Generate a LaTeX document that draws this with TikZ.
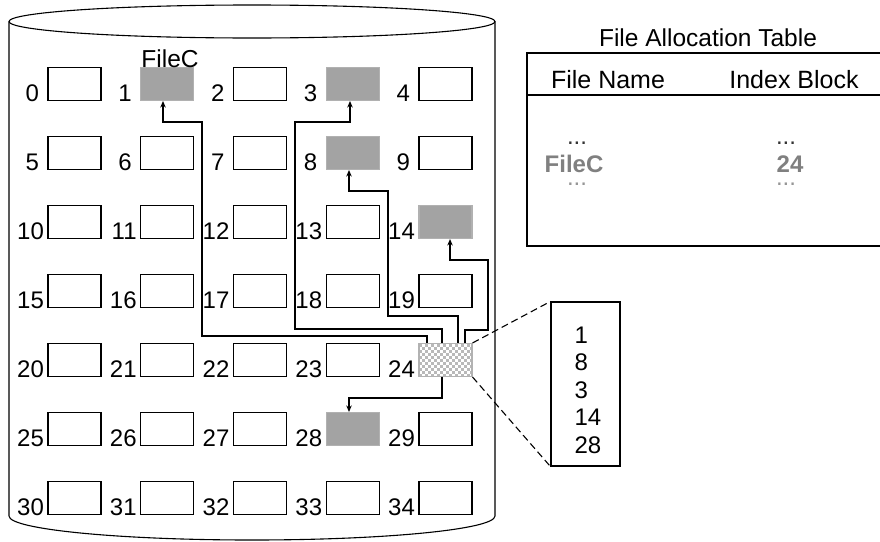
\documentclass[tikz,border=0pt]{standalone}
\usepackage{fontspec}
\setmainfont{Liberation Sans}
\usetikzlibrary{arrows.meta}

\definecolor{blockgray}{RGB}{163,163,163}
\definecolor{checkgray}{RGB}{185,185,185}
\definecolor{txtgray}{RGB}{128,128,128}
\definecolor{dotgray}{RGB}{150,150,150}

\begin{document}
\begin{tikzpicture}[x=1pt,y=-1pt,
  line width=1.1pt,
  blk/.style={draw=black, line width=1.1pt, fill=white, minimum width=53pt,
    minimum height=33pt, inner sep=0pt},
  used/.style={fill=blockgray, draw=blockgray!85!white},
  indexblk/.style={draw=black!30, fill=white, path picture={
      \foreach \u in {0,...,17}{\foreach \v in {0,...,10}{
        \pgfmathtruncatemacro\chk{mod(\u+\v,2)}
        \ifnum\chk=0
          \fill[checkgray] ([xshift={\u*3pt}, yshift={-\v*3pt}]path picture bounding box.north west) rectangle ++(3,3);
        \fi}}}},
  kind1/.style=used, kind3/.style=used, kind8/.style=used,
  kind14/.style=used, kind28/.style=used, kind24/.style=indexblk,
  lbl/.style={font=\fontsize{24}{28}\selectfont, inner sep=0pt, anchor=base east},
  tbl/.style={font=\fontsize{25}{30}\selectfont, inner sep=0pt, anchor=base},
  conn/.style={line width=1.1pt, -{Stealth[length=6.5pt,width=5.5pt]}},
  zoomline/.style={line width=1.1pt, dash pattern=on 7pt off 4pt}]

\useasboundingbox (0,0) rectangle (880,541);

% disk outline
\draw (252,21.5) ellipse [x radius=243pt, y radius=16.5pt];
\draw (9,21.5) -- (9,516) arc [start angle=180, end angle=360, x radius=243pt, y radius=24pt] -- (495,21.5);

% blocks 0..34 with their numbers
\foreach \i in {0,...,34}{
  \pgfmathtruncatemacro\r{int(\i/5)}
  \pgfmathtruncatemacro\c{mod(\i,5)}
  \node[blk, kind\i/.try] (b\i) at ({74.5+92.75*\c},{84+69*\r}) {};
  \ifnum\i<10 \def\gap{-8pt}\else\def\gap{-3pt}\fi
  \node[lbl] (l\i) at ([xshift=\gap]b\i.south west) {\i};
}
\node[lbl, anchor=base, font=\fontsize{24.5}{29}\selectfont] (fname) at (170,67) {FileC};

% index block contents
\node[draw, line width=1.1pt, minimum width=69pt, minimum height=164pt, inner sep=0pt] (ix) at (585.5,384) {};
\foreach \n [count=\k from 0] in {1,8,3,14,28}
  \node[lbl, anchor=base west] (ixn\k) at (574,{343+27.5*\k}) {\n};
\draw[zoomline] (b24.north east) -- (ix.north west);
\draw[zoomline] (b24.south east) -- (ix.south west);

% pointers from the index block
\draw[conn] ([xshift=-18.5pt]b24.north) |- (202,336) |- (163,122) -- (163,0 |- b1.south);
\draw[conn] ([xshift=-3.5pt]b24.north) |- (295,329) |- (350,122) -- (350,0 |- b3.south);
\draw[conn] ([xshift=12.5pt]b24.north) |- (388,316) |- (349,191) -- (349,0 |- b8.south);
\draw[conn] ([xshift=19.5pt]b24.north) |- (488,330) |- (450,260) -- (450,0 |- b14.south);
\draw[conn] ([xshift=-3.5pt]b24.south) |- (349,398) -- (349,0 |- b28.north);

% file allocation table
\node[tbl, font=\fontsize{24.5}{29}\selectfont] (fattitle) at (708,46) {File Allocation Table};
\draw (885,53) -- (527,53) -- (527,246) -- (885,246);
\draw (527,95) -- (885,95);
\node[tbl] (hname) at (608,88) {File Name};
\node[tbl] (hidx) at (794,88) {Index Block};
\node[tbl, font=\fontsize{24}{28}\selectfont, text=black!80] (d1) at (577,144) {...};
\node[tbl, text=txtgray, font=\fontsize{24}{28}\selectfont\bfseries] (rname) at (574,172) {FileC};
\node[tbl, font=\fontsize{24}{28}\selectfont, text=dotgray] (d2) at (577,185) {...};
\node[tbl, font=\fontsize{24}{28}\selectfont, text=black!80] (d3) at (786,144) {...};
\node[tbl, text=txtgray, font=\fontsize{24}{28}\selectfont\bfseries] (ridx) at (790,172) {24};
\node[tbl, font=\fontsize{24}{28}\selectfont, text=dotgray] (d4) at (786,185) {...};
\end{tikzpicture}
\end{document}
